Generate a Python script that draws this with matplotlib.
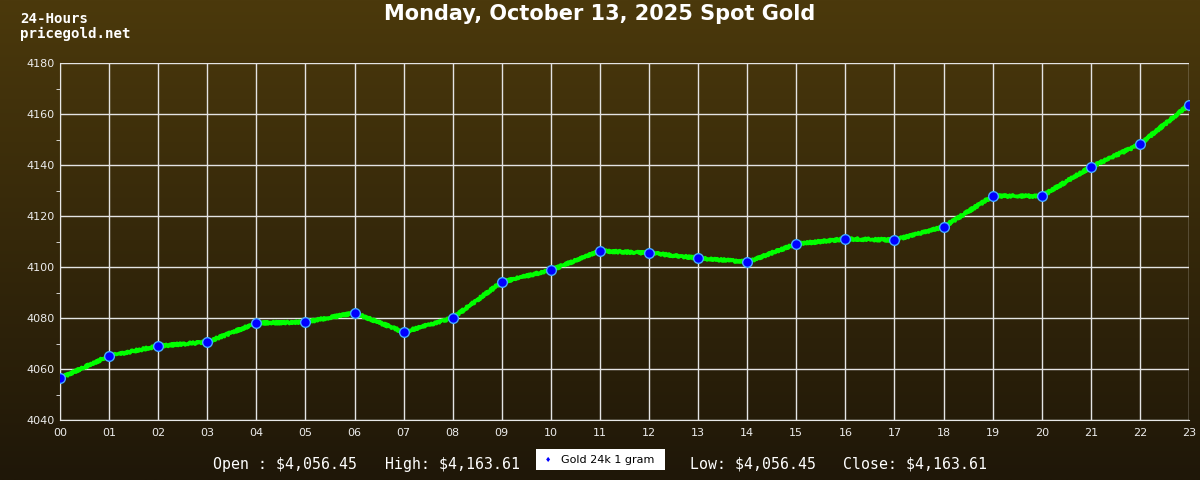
import matplotlib.pyplot as plt
import numpy as np

hours = ["00", "01", "02", "03", "04", "05", "06", "07", "08", "09", "10", "11",
         "12", "13", "14", "15", "16", "17", "18", "19", "20", "21", "22", "23"]
prices = [4056.45, 4065.1, 4069.0, 4070.6, 4078.0, 4078.4, 4082.0, 4074.5,
          4080.0, 4094.1, 4098.8, 4106.3, 4105.5, 4103.5, 4102.0, 4109.0,
          4111.0, 4110.6, 4115.7, 4127.8, 4127.8, 4139.2, 4148.2, 4163.61]
title = "Monday, October 13, 2025 Spot Gold"
series_name = "Gold 24k 1 gram"
stats = [("Open : $4,056.45", 213), ("High: $4,163.61", 385),
         ("Low: $4,056.45", 690), ("Close: $4,163.61", 843)]

fig = plt.figure(figsize=(12, 4.8), dpi=100)

# background gradient
bg = fig.add_axes([0, 0, 1, 1], zorder=0)
top = np.array([0x4b, 0x39, 0x0c]) / 255
bot = np.array([0x1f, 0x17, 0x08]) / 255
t = np.linspace(0, 1, 256)[:, None]
grad = top * (1 - t) + bot * t
bg.imshow(grad[:, None, :].repeat(2, axis=1), aspect="auto", extent=[0, 1, 0, 1])
bg.axis("off")

ax = fig.add_axes([60 / 1200, 1 - 420 / 480, 1129 / 1200, 357 / 480], zorder=1)
ax.patch.set_alpha(0)
x = np.arange(len(hours))
line, = ax.plot(x, prices, color="#00ff00", lw=2.6, zorder=3)
line.set_sketch_params(scale=1.2, length=3, randomness=2)
ax.plot(x, prices, ls="none", marker="o", ms=7, mfc="#0000ff",
        mec="#45aaff", mew=1, zorder=4)

ax.set_xlim(0, 23)
ax.set_ylim(4040, 4180)
ax.set_xticks(x)
ax.set_xticklabels(hours)
ax.set_yticks(np.arange(4040, 4181, 20))
ax.set_yticks(np.arange(4050, 4180, 20), minor=True)
ax.grid(True, which="major", color="#e4e4e4", lw=1)
for s in ax.spines.values():
    s.set_visible(False)
ax.spines["left"].set_visible(True)
ax.spines["left"].set_color("#e8e8e8")
ax.spines["bottom"].set_visible(True)
ax.spines["bottom"].set_color("#e8e8e8")
ax.tick_params(axis="both", colors="#ececec", labelsize=8, length=4)
ax.tick_params(axis="x", length=0, pad=6)
ax.tick_params(axis="y", which="minor", length=3, color="#ececec")
ax.tick_params(axis="y", which="major", length=0, pad=4)

fig.text(0.5, 1 - 14 / 480, title, ha="center", va="center", color="white",
         fontsize=15, fontweight="bold")
fig.text(20 / 1200, 1 - 19 / 480, "24-Hours", ha="left", va="center",
         color="white", fontsize=10.2, family="DejaVu Sans Mono", fontweight="bold")
fig.text(20 / 1200, 1 - 34 / 480, "pricegold.net", ha="left", va="center",
         color="white", fontsize=10.2, family="DejaVu Sans Mono", fontweight="bold")

for txt, px in stats:
    fig.text(px / 1200, 1 - 464 / 480, txt, ha="left", va="center",
             color="white", fontsize=10.7, family="DejaVu Sans Mono")

# legend box
fig.patches.append(plt.Rectangle((536 / 1200, 1 - 470 / 480), 129 / 1200, 21 / 480,
                                 transform=fig.transFigure, facecolor="white",
                                 edgecolor="none", zorder=2))
fig.text(548 / 1200, 1 - 460 / 480, "\u2666", ha="center", va="center",
         color="#0000ff", fontsize=5, zorder=3)
fig.text(561 / 1200, 1 - 460 / 480, series_name, ha="left", va="center",
         color="black", fontsize=8, zorder=3)

fig.savefig("out.png", dpi=100)
